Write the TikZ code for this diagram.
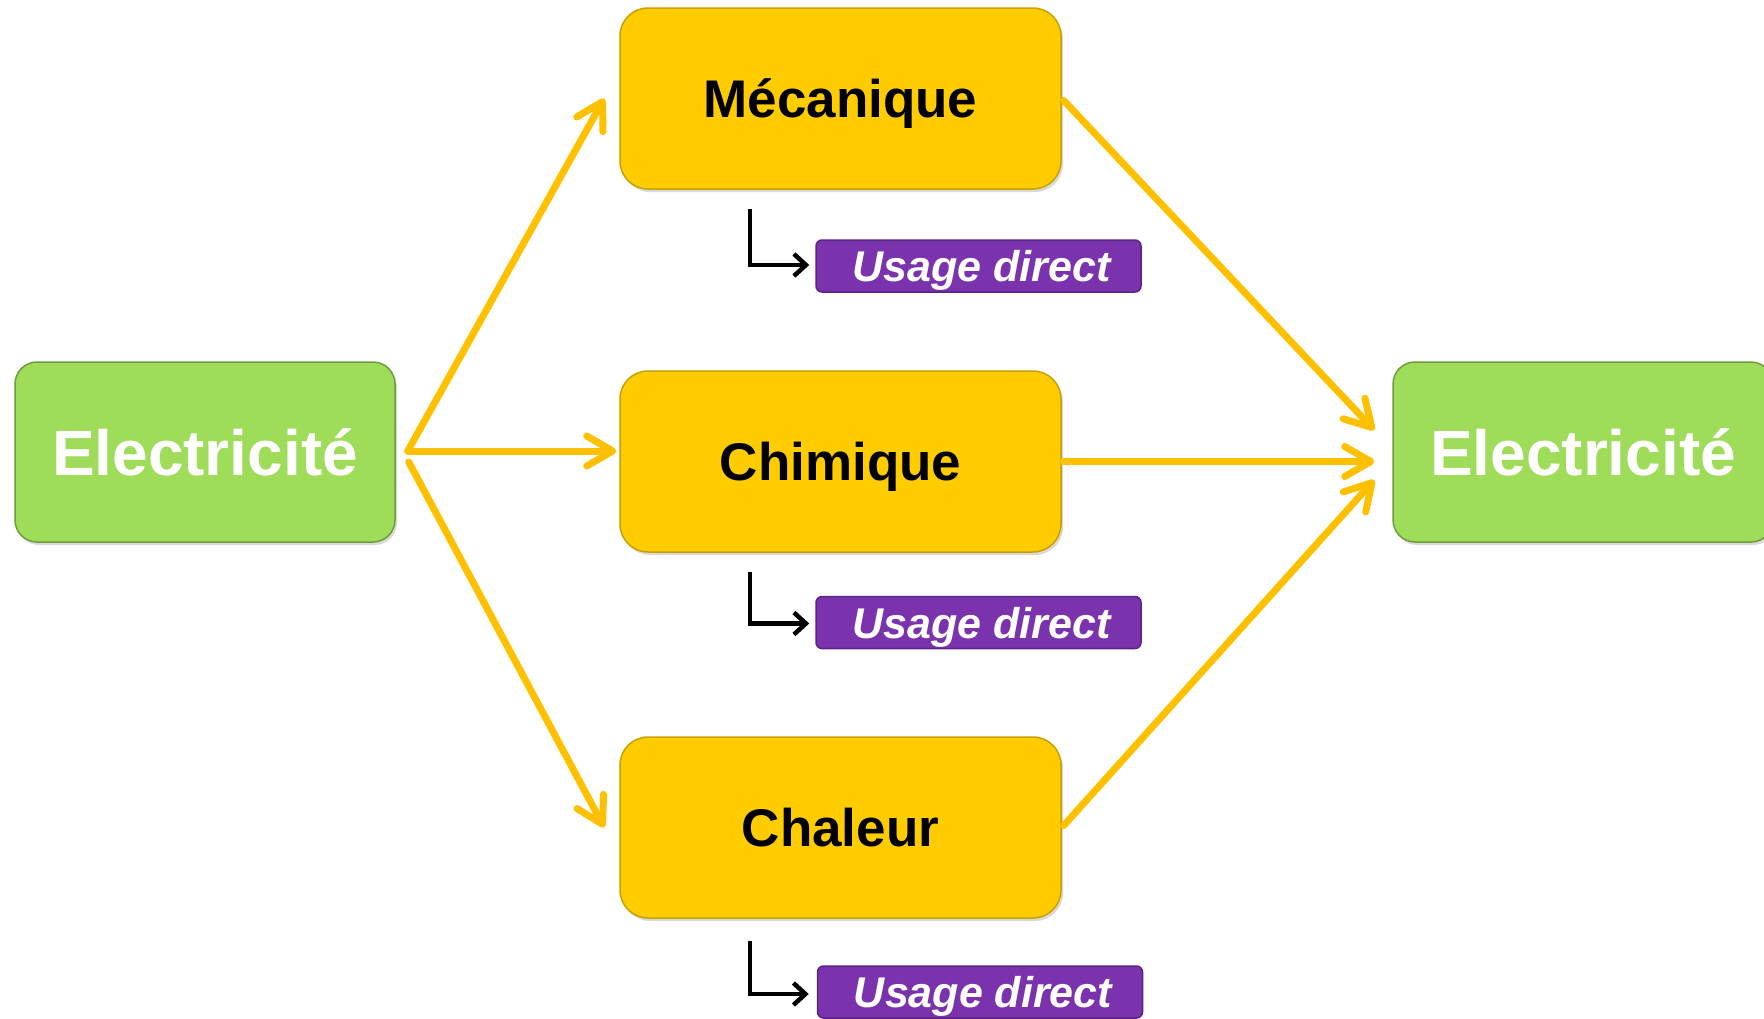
\documentclass[tikz,border=0pt]{standalone}
\usepackage{fontspec}
\setmainfont{Liberation Sans}
\usetikzlibrary{arrows.meta,calc,shadows}
\definecolor{elgreen}{HTML}{9EDC5A}
\definecolor{elgreenD}{HTML}{6E9E3C}
\definecolor{boxyel}{HTML}{FFCC00}
\definecolor{boxyelD}{HTML}{C9A000}
\definecolor{arryel}{HTML}{FFC000}
\definecolor{usepur}{HTML}{7A33AD}
\definecolor{usepurD}{HTML}{5B2385}
\begin{document}
\begin{tikzpicture}[x=1pt,y=-1pt,
  greenbox/.style={rectangle, rounded corners=22pt, fill=elgreen, draw=elgreenD, line width=1.5pt,
    minimum width=380pt, minimum height=180pt, inner sep=0pt, text=white,
    font=\fontsize{64}{70}\selectfont\bfseries, text height=46pt, text depth=0pt,
    drop shadow={shadow xshift=2pt, shadow yshift=-3pt, opacity=0.3}},
  yelbox/.style={rectangle, rounded corners=28pt, fill=boxyel, draw=boxyelD, line width=1.5pt,
    minimum width=441pt, minimum height=181pt, inner sep=0pt, text=black,
    font=\fontsize{53}{60}\selectfont\bfseries, text height=38pt, text depth=0pt,
    drop shadow={shadow xshift=2pt, shadow yshift=-3pt, opacity=0.3}},
  purbox/.style={rectangle, rounded corners=6pt, fill=usepur, draw=usepurD, line width=1.5pt,
    minimum width=325pt, minimum height=52pt, inner sep=0pt, text=white,
    font=\fontsize{43}{48}\selectfont\bfseries\itshape, text height=31pt, text depth=0pt},
  yarrow/.style={draw=arryel, line width=7pt, line cap=round, line join=round,
    -{Straight Barb[length=26pt,width=30pt,line cap=round,line join=round]}},
  barrow/.style={draw=black, line width=4.5pt, line join=miter,
    -{Straight Barb[length=12pt,width=22pt]}}
]
\useasboundingbox (0,0) rectangle (1764,1018);

\node[greenbox] (el1) at (205,452) {Electricit\'e};
\node[greenbox] (el2) at (1583,452) {Electricit\'e};

\node[yelbox] (mec) at (840.5,98.5) {M\'ecanique};
\node[yelbox] (chi) at (840.5,461.5) {Chimique};
\node[yelbox] (cha) at (840.5,827.5) {Chaleur};

\node[purbox] (u1) at (978.5,266) {\hspace*{6pt}Usage direct};
\node[purbox] (u2) at (978.5,622.5) {\hspace*{6pt}Usage direct};
\node[purbox] (u3) at (980,992) {\hspace*{6pt}Usage direct};

% left hub points
\coordinate (hubA) at ($(el1.east)+(12,-1)$);
\coordinate (hubB) at ($(el1.east)+(13,10)$);

\draw[yarrow] (hubA) -- ($(mec.west)+(-15,0)$);
\draw[yarrow] (hubA) -- ($(hubA -| chi.west)+(-3,0)$);
\draw[yarrow] (hubB) -- ($(cha.west)+(-15,0)$);

\draw[yarrow] ($(mec.east)+(2,2)$) -- ($(el2.west)+(-18,-22)$);
\draw[yarrow] ($(chi.east)+(2,0)$) -- ($(chi.east -| el2.west)+(-18,0)$);
\draw[yarrow] ($(cha.east)+(2,-2)$) -- ($(el2.west)+(-18,28)$);

% usage direct connectors
\coordinate (t1) at ($(mec.south)+(-90.5,19)$);
\coordinate (t2) at ($(chi.south)+(-90.5,19)$);
\coordinate (t3) at ($(cha.south)+(-90.5,22)$);
\draw[barrow] (t1) |- ($(u1.west)+(-6,-1)$);
\draw[barrow] (t2) |- ($(u2.west)+(-6,1)$);
\draw[barrow] (t3) |- ($(u3.west)+(-8,2)$);
\end{tikzpicture}
\end{document}
